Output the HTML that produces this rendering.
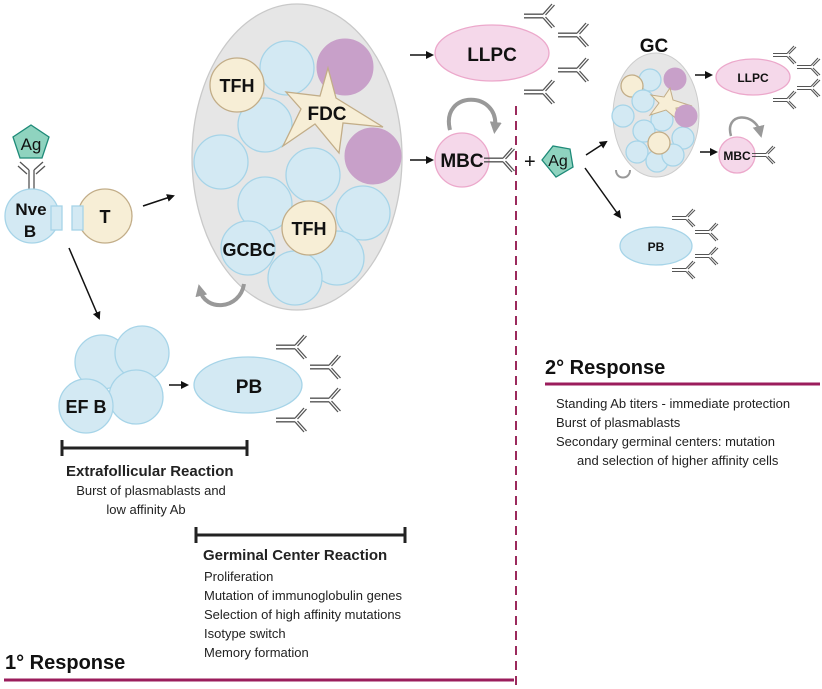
<!DOCTYPE html>
<html><head><meta charset="utf-8"><style>
html,body{margin:0;padding:0;background:#fff;}
svg{display:block;font-family:"Liberation Sans",sans-serif;}
.b{fill:#d3e9f3;stroke:#a6d4e8;stroke-width:1.3}
.t{fill:#f7eed6;stroke:#c2ad88;stroke-width:1.3}
.p{fill:#c8a0c9;stroke:#c8a0c9}
.k{fill:#f5d8ea;stroke:#eca8cb;stroke-width:1.3}
.lb{font-weight:bold;fill:#111;text-anchor:middle}
.tx{font-size:13px;fill:#222}
</style></head><body>
<svg width="822" height="689" viewBox="0 0 822 689">
<defs>
<marker id="ar" markerWidth="8" markerHeight="8" refX="6" refY="4" orient="auto" markerUnits="userSpaceOnUse"><path d="M0,0 L8,4 L0,8 z" fill="#111"/></marker>
<marker id="ag" markerWidth="12" markerHeight="12" refX="6" refY="6" orient="auto" markerUnits="userSpaceOnUse"><path d="M0,0 L12,6 L0,12 z" fill="#999"/></marker>
<g id="ab" stroke="#555" stroke-width="1.3" fill="none">
<path d="M0,-1.8 H19 M0,1.8 H19 M19,-1.8 L28,-12 M21.5,-1 L30.5,-11 M19,1.8 L28,12 M21.5,1 L30.5,11"/>
</g>
<g id="abs" stroke="#555" stroke-width="1.1" fill="none">
<path d="M0,-1.5 H14 M0,1.5 H14 M14,-1.5 L21,-9 M16,-1 L23,-8 M14,1.5 L21,9 M16,1 L23,8"/>
</g>
</defs>

<ellipse cx="297" cy="157" rx="105" ry="153" fill="#e6e6e6" stroke="#c9c9c9" stroke-width="1.3"/>
<circle class="b" cx="287" cy="68" r="27"/>
<circle class="p" cx="345" cy="67" r="28"/>
<circle class="b" cx="265" cy="125" r="27"/>
<circle class="t" cx="237" cy="85" r="27"/>
<circle class="b" cx="221" cy="162" r="27"/>
<circle class="b" cx="313" cy="175" r="27"/>
<circle class="b" cx="265" cy="204" r="27"/>
<circle class="b" cx="363" cy="213" r="27"/>
<circle class="b" cx="337" cy="258" r="27"/>
<circle class="b" cx="248" cy="248" r="27"/>
<circle class="b" cx="295" cy="278" r="27"/>
<circle class="t" cx="309" cy="228" r="27"/>
<polygon points="328,68 336,98 383,127 343,123 339,153 315,124 283,146 301,109 286,92 320,96" fill="#f7eed6" stroke="#c2ad88" stroke-width="1.3"/>
<circle class="p" cx="373" cy="156" r="28"/>
<text class="lb" x="237" y="92" font-size="18">TFH</text>
<text class="lb" x="327" y="120" font-size="19">FDC</text>
<text class="lb" x="309" y="235" font-size="18">TFH</text>
<text class="lb" x="249" y="256" font-size="18">GCBC</text>
<path d="M244,284 C240,310 205,312 200,290" fill="none" stroke="#999" stroke-width="4" marker-end="url(#ag)"/>

<polygon points="31,125 49,137 42,158 20,158 13,137" fill="#8fd3bf" stroke="#1e8a78" stroke-width="1.3"/>
<text x="31" y="150" font-size="17" text-anchor="middle" fill="#111">Ag</text>
<path d="M29,192 V170 M34,192 V170 M29,170 L20,162 M27,174 L18,166 M34,170 L43,162 M36,174 L45,166" stroke="#555" stroke-width="1.3" fill="none"/>
<circle class="b" cx="32" cy="216" r="27"/>
<rect x="51" y="206" width="11" height="24" class="b"/>
<circle class="t" cx="105" cy="216" r="27"/>
<rect x="72" y="206" width="11" height="24" class="b"/>
<text class="lb" x="31" y="215" font-size="17">Nve</text>
<text class="lb" x="30" y="237" font-size="17">B</text>
<text class="lb" x="105" y="223" font-size="18">T</text>
<line x1="143" y1="206" x2="173" y2="196" stroke="#111" stroke-width="1.5" marker-end="url(#ar)"/>
<line x1="69" y1="248" x2="99" y2="318" stroke="#111" stroke-width="1.5" marker-end="url(#ar)"/>

<circle class="b" cx="102" cy="362" r="27"/>
<circle class="b" cx="142" cy="353" r="27"/>
<circle class="b" cx="136" cy="397" r="27"/>
<circle class="b" cx="86" cy="406" r="27"/>
<text class="lb" x="86" y="413" font-size="18">EF B</text>
<line x1="169" y1="385" x2="187" y2="385" stroke="#111" stroke-width="1.5" marker-end="url(#ar)"/>
<ellipse class="b" cx="248" cy="385" rx="54" ry="28"/>
<text class="lb" x="249" y="393" font-size="19">PB</text>
<use href="#ab" x="276" y="347"/><use href="#ab" x="310" y="367"/><use href="#ab" x="310" y="400"/><use href="#ab" x="276" y="420"/>
<path d="M62,448 H247 M62,440 V456 M247,440 V456" stroke="#222" stroke-width="3" fill="none"/>
<text x="66" y="476" font-size="15" font-weight="bold" fill="#222">Extrafollicular Reaction</text>
<text class="tx" x="151" y="495" text-anchor="middle">Burst of plasmablasts and</text>
<text class="tx" x="146" y="514" text-anchor="middle">low affinity Ab</text>
<path d="M196,535 H405 M196,527 V543 M405,527 V543" stroke="#222" stroke-width="3" fill="none"/>
<text x="203" y="560" font-size="15" font-weight="bold" fill="#222">Germinal Center Reaction</text>
<text class="tx" x="204" y="581">Proliferation</text>
<text class="tx" x="204" y="600">Mutation of immunoglobulin genes</text>
<text class="tx" x="204" y="619">Selection of high affinity mutations</text>
<text class="tx" x="204" y="638">Isotype switch</text>
<text class="tx" x="204" y="657">Memory formation</text>
<text x="5" y="669" font-size="20" font-weight="bold" fill="#111">1° Response</text>
<line x1="4" y1="680" x2="514" y2="680" stroke="#9b1d5c" stroke-width="3"/>

<line x1="516" y1="106" x2="516" y2="686" stroke="#9b2a5c" stroke-width="2" stroke-dasharray="9,6"/>

<line x1="410" y1="55" x2="432" y2="55" stroke="#111" stroke-width="1.5" marker-end="url(#ar)"/>
<ellipse class="k" cx="492" cy="53" rx="57" ry="28"/>
<text class="lb" x="492" y="61" font-size="19">LLPC</text>
<use href="#ab" x="524" y="16"/><use href="#ab" x="558" y="35"/><use href="#ab" x="558" y="70"/><use href="#ab" x="524" y="92"/>
<line x1="410" y1="160" x2="432" y2="160" stroke="#111" stroke-width="1.5" marker-end="url(#ar)"/>
<circle class="k" cx="462" cy="160" r="27"/>
<text class="lb" x="462" y="167" font-size="19">MBC</text>
<use href="#ab" x="484" y="160"/>
<path d="M450,130 C440,90 500,90 495,128" fill="none" stroke="#999" stroke-width="4" marker-end="url(#ag)"/>

<text x="524" y="168" font-size="20" fill="#111">+</text>
<polygon points="542,160 553,146 570,149 573,167 556,177" fill="#8fd3bf" stroke="#1e8a78" stroke-width="1.3"/>
<text x="558" y="166" font-size="16" text-anchor="middle" fill="#111">Ag</text>
<line x1="586" y1="155" x2="606" y2="142" stroke="#111" stroke-width="1.5" marker-end="url(#ar)"/>
<line x1="585" y1="168" x2="620" y2="217" stroke="#111" stroke-width="1.5" marker-end="url(#ar)"/>

<text class="lb" x="654" y="52" font-size="19">GC</text>
<ellipse cx="656" cy="115" rx="43" ry="62" fill="#e6e6e6" stroke="#ccc"/>
<g stroke-width="1">
<circle class="b" cx="650" cy="80" r="11"/>
<circle class="p" cx="675" cy="79" r="11"/>
<circle class="t" cx="632" cy="86" r="11"/>
<circle class="b" cx="643" cy="101" r="11"/>
<circle class="b" cx="623" cy="116" r="11"/>
<circle class="b" cx="662" cy="120" r="11"/>
<circle class="b" cx="644" cy="131" r="11"/>
<circle class="b" cx="683" cy="138" r="11"/>
<circle class="b" cx="637" cy="152" r="11"/>
<circle class="b" cx="657" cy="161" r="11"/>
<circle class="b" cx="673" cy="155" r="11"/>
<polygon points="670,88 673,100 692,106 676,108 678,120 666,110 650,115 659,103 651,95 664,97" fill="#f7eed6" stroke="#c2ad88"/>
<circle class="p" cx="686" cy="116" r="11"/>
<circle class="t" cx="659" cy="143" r="11"/>
</g>
<path d="M630,170 C630,180 616,180 616,170" fill="none" stroke="#999" stroke-width="2"/>
<line x1="695" y1="75" x2="711" y2="75" stroke="#111" stroke-width="1.5" marker-end="url(#ar)"/>
<ellipse class="k" cx="753" cy="77" rx="37" ry="18"/>
<text class="lb" x="753" y="82" font-size="12">LLPC</text>
<use href="#abs" x="773" y="55"/><use href="#abs" x="797" y="67"/><use href="#abs" x="797" y="88"/><use href="#abs" x="773" y="100"/>
<line x1="700" y1="152" x2="716" y2="152" stroke="#111" stroke-width="1.5" marker-end="url(#ar)"/>
<circle class="k" cx="737" cy="155" r="18"/>
<text class="lb" x="737" y="160" font-size="12">MBC</text>
<use href="#abs" x="752" y="155"/>
<path d="M731,136 C724,112 755,112 760,132" fill="none" stroke="#999" stroke-width="2.5" marker-end="url(#ag)"/>
<ellipse class="b" cx="656" cy="246" rx="36" ry="19"/>
<text class="lb" x="656" y="251" font-size="12">PB</text>
<use href="#abs" x="672" y="218"/><use href="#abs" x="695" y="232"/><use href="#abs" x="695" y="256"/><use href="#abs" x="672" y="270"/>

<text x="545" y="374" font-size="20" font-weight="bold" fill="#111">2° Response</text>
<line x1="545" y1="384" x2="820" y2="384" stroke="#9b1d5c" stroke-width="3"/>
<text class="tx" x="556" y="408">Standing Ab titers - immediate protection</text>
<text class="tx" x="556" y="427">Burst of plasmablasts</text>
<text class="tx" x="556" y="446">Secondary germinal centers: mutation</text>
<text class="tx" x="577" y="465">and selection of higher affinity cells</text>
</svg>
</body></html>
